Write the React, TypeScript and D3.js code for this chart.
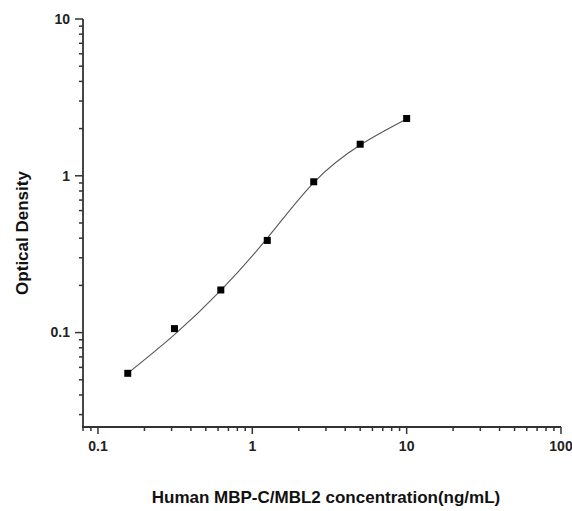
import React from 'react';
import * as d3 from 'd3';

// standard concentrations (ng/mL) and measured OD
const concentrations = [0.156, 0.313, 0.625, 1.25, 2.5, 5, 10];
const odValues = [0.055, 0.106, 0.187, 0.387, 0.916, 1.59, 2.32];
// fitted curve at the same concentrations
const fitValues = [0.055, 0.097, 0.186, 0.4, 0.905, 1.57, 2.3];

const xMajorTicks = [0.1, 1, 10, 100];
const yMajorTicks = [0.1, 1, 10];

const W = 572;
const H = 511;
const left = 83;
const right = 561;
const top = 19;
const bottom = 427;

const App = () => {
  const x = d3.scaleLog().domain([0.08, 100]).range([left, right]);
  const y = d3.scaleLog().domain([0.025, 10]).range([bottom, top]);

  const xMinor = x.ticks().filter((t) => !xMajorTicks.some((m) => Math.abs(m - t) < 1e-9));
  const yMinor = y.ticks().filter((t) => !yMajorTicks.some((m) => Math.abs(m - t) < 1e-9));

  const line = d3
    .line<number>()
    .x((_d, i) => x(concentrations[i]))
    .y((d) => y(d))
    .curve(d3.curveNatural);

  const axisColor = '#333';
  const font = '"Liberation Sans", Arial, sans-serif';

  return (
    <div style={{ position: 'absolute', left: 0, top: 0 }}>
      <svg width={W} height={H} style={{ display: 'block', background: '#fff' }}>
        {/* curve */}
        <path d={line(fitValues) ?? ''} fill="none" stroke="#555" strokeWidth={1.1} />

        {/* points */}
        {concentrations.map((c, i) => (
          <rect
            key={c}
            x={x(c) - 3.5}
            y={y(odValues[i]) - 3.5}
            width={7}
            height={7}
            fill="#000"
          />
        ))}

        {/* y axis */}
        <line x1={left} x2={left} y1={top} y2={bottom + 1} stroke={axisColor} strokeWidth={1.8} />
        {yMajorTicks.map((t) => (
          <g key={t}>
            <line x1={left - 8} x2={left} y1={y(t)} y2={y(t)} stroke={axisColor} strokeWidth={1.5} />
            <text
              x={left - 13}
              y={y(t)}
              dy="0.35em"
              textAnchor="end"
              fontFamily={font}
              fontWeight="bold"
              fontSize={14}
              fill="#222"
            >
              {t}
            </text>
          </g>
        ))}
        {yMinor.map((t) => (
          <line key={t} x1={left - 4} x2={left} y1={y(t)} y2={y(t)} stroke={axisColor} strokeWidth={1.5} />
        ))}

        {/* x axis */}
        <line x1={left - 1} x2={right} y1={bottom} y2={bottom} stroke={axisColor} strokeWidth={1.8} />
        {xMajorTicks.map((t) => (
          <g key={t}>
            <line x1={x(t)} x2={x(t)} y1={bottom} y2={bottom + 7} stroke={axisColor} strokeWidth={1.5} />
            <text
              x={x(t)}
              y={bottom + 24}
              textAnchor="middle"
              fontFamily={font}
              fontWeight="bold"
              fontSize={14}
              fill="#222"
            >
              {t}
            </text>
          </g>
        ))}
        {xMinor.map((t) => (
          <line key={t} x1={x(t)} x2={x(t)} y1={bottom} y2={bottom + 4} stroke={axisColor} strokeWidth={1.5} />
        ))}

        {/* titles */}
        <text
          x={(150 + 502) / 2}
          y={503}
          textAnchor="middle"
          fontFamily={font}
          fontWeight="bold"
          fontSize={17}
          fill="#111"
        >
          Human MBP-C/MBL2 concentration(ng/mL)
        </text>
        <text
          transform={`translate(28, ${(168 + 298) / 2}) rotate(-90)`}
          textAnchor="middle"
          fontFamily={font}
          fontWeight="bold"
          fontSize={17}
          fill="#111"
        >
          Optical Density
        </text>
      </svg>
    </div>
  );
};

export default App;
